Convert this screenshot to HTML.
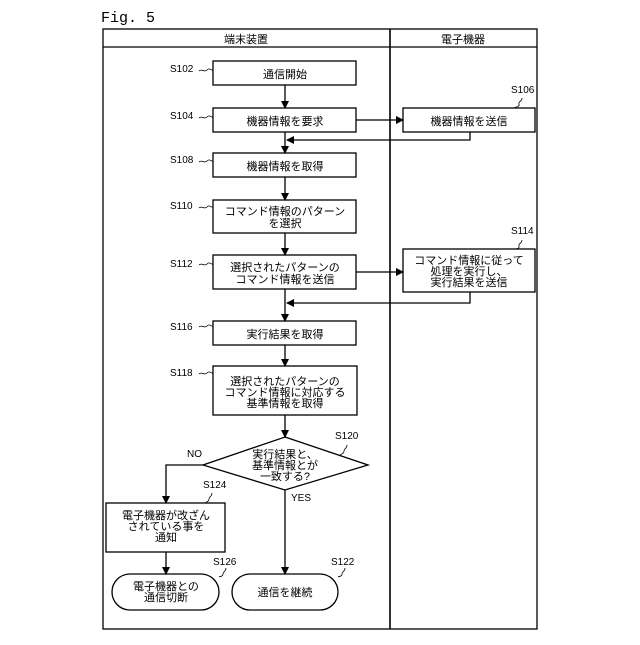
<!DOCTYPE html>
<html><head><meta charset="utf-8"><style>body{margin:0;background:#fff}</style></head><body>
<svg width="640" height="640" viewBox="0 0 640 640" xmlns="http://www.w3.org/2000/svg" font-family="'Liberation Sans','Noto Sans CJK JP',sans-serif" font-size="11" fill="#000">
<defs><marker id="a" markerWidth="8" markerHeight="8" refX="7" refY="4" orient="auto" markerUnits="userSpaceOnUse"><path d="M0,0L8,4L0,8z" fill="#000"/></marker></defs>
<text x="101" y="22" font-family="'Liberation Mono',monospace" font-size="15">Fig. 5</text>
<g fill="none" stroke="#000" stroke-width="1.3">
<rect x="103" y="29" width="434" height="600"/>
<line x1="103" y1="47" x2="537" y2="47"/>
<line x1="390" y1="29" x2="390" y2="629" stroke-width="1.6"/>
<rect x="213" y="61" width="143" height="24"/>
<rect x="213" y="108" width="143" height="24"/>
<rect x="213" y="153" width="143" height="24"/>
<rect x="213" y="200" width="143" height="33"/>
<rect x="213" y="255" width="143" height="34"/>
<rect x="213" y="321" width="143" height="24"/>
<rect x="213" y="366" width="144" height="49"/>
<path d="M285,437L368,465L285,490L203,465z"/>
<rect x="106" y="503" width="119" height="49"/>
<rect x="112" y="574" width="107" height="36" rx="18"/>
<rect x="232" y="574" width="106" height="36" rx="18"/>
<rect x="403" y="108" width="132" height="24"/>
<rect x="403" y="249" width="132" height="43"/>
<g marker-end="url(#a)">
<line x1="285" y1="85" x2="285" y2="108"/>
<line x1="285" y1="132" x2="285" y2="153"/>
<line x1="285" y1="177" x2="285" y2="200"/>
<line x1="285" y1="233" x2="285" y2="255"/>
<line x1="285" y1="289" x2="285" y2="321"/>
<line x1="285" y1="345" x2="285" y2="366"/>
<line x1="285" y1="415" x2="285" y2="437"/>
<line x1="285" y1="490" x2="285" y2="574"/>
<polyline points="203,465 166,465 166,503"/>
<line x1="166" y1="552" x2="166" y2="574"/>
<line x1="356" y1="120" x2="403" y2="120"/>
<line x1="356" y1="272" x2="403" y2="272"/>
<polyline points="470,132 470,140 287,140"/>
<polyline points="470,292 470,303 287,303"/>
</g>
<g stroke-width="0.8">
<path d="M199,71c3,-3 5,2 8,-1s4,1 6,0"/><path d="M199,118c3,-3 5,2 8,-1s4,1 6,0"/>
<path d="M199,162c3,-3 5,2 8,-1s4,1 6,0"/><path d="M199,208c3,-3 5,2 8,-1s4,1 6,0"/>
<path d="M199,265c3,-3 5,2 8,-1s4,1 6,0"/><path d="M199,327c3,-3 5,2 8,-1s4,1 6,0"/>
<path d="M199,374c3,-3 5,2 8,-1s4,1 6,0"/>
<path d="M522,98c0,4 -4,3 -3,6s-4,3 -5,4"/><path d="M522,240c0,4 -4,3 -3,6s-4,3 -5,3"/>
<path d="M347,445c0,4 -3,3 -3,6s-3,3 -4,4"/><path d="M212,493c0,4 -3,3 -3,6s-3,3 -4,4"/>
<path d="M226,568c0,4 -3,3 -3,6s-3,2 -4,3"/><path d="M345,568c0,4 -3,3 -3,6s-3,2 -4,3"/>
</g>
</g>
<g text-anchor="middle">
<text x="246" y="43">端末装置</text><text x="463" y="43">電子機器</text>
<text x="285" y="78">通信開始</text>
<text x="285" y="125">機器情報を要求</text>
<text x="285" y="170">機器情報を取得</text>
<text x="285" y="215">コマンド情報のパターン</text><text x="285" y="227">を選択</text>
<text x="285" y="271">選択されたパターンの</text><text x="285" y="283">コマンド情報を送信</text>
<text x="285" y="338">実行結果を取得</text>
<text x="285" y="385">選択されたパターンの</text><text x="285" y="396">コマンド情報に対応する</text><text x="285" y="407">基準情報を取得</text>
<text x="285" y="458">実行結果と、</text><text x="285" y="469">基準情報とが</text><text x="285" y="480">一致する?</text>
<text x="166" y="519">電子機器が改ざん</text><text x="166" y="530">されている事を</text><text x="166" y="541">通知</text>
<text x="166" y="590">電子機器との</text><text x="166" y="601">通信切断</text>
<text x="285" y="596">通信を継続</text>
<text x="469" y="125">機器情報を送信</text>
<text x="469" y="264">コマンド情報に従って</text><text x="469" y="275">処理を実行し、</text><text x="469" y="286">実行結果を送信</text>
</g>
<g font-size="10">
<text x="170" y="72">S102</text><text x="170" y="119">S104</text><text x="170" y="163">S108</text>
<text x="170" y="209">S110</text><text x="170" y="267">S112</text><text x="170" y="330">S116</text>
<text x="170" y="376">S118</text><text x="511" y="93">S106</text><text x="511" y="234">S114</text>
<text x="335" y="439">S120</text><text x="203" y="488">S124</text><text x="213" y="565">S126</text>
<text x="331" y="565">S122</text><text x="187" y="457">NO</text><text x="291" y="501">YES</text>
</g>
</svg>
</body></html>
